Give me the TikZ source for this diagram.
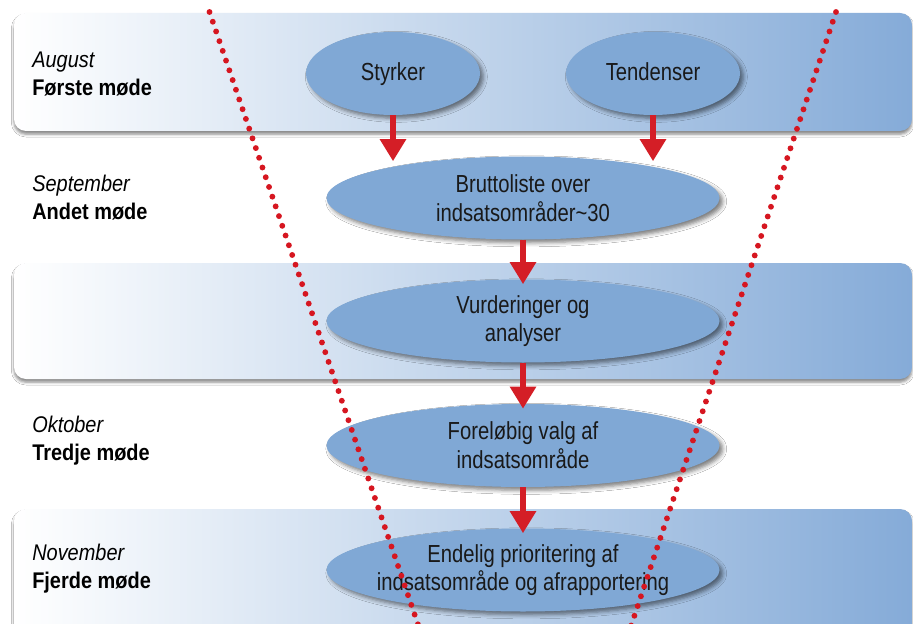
\documentclass[tikz,border=0pt]{standalone}
\usepackage{fontspec}
\setmainfont{Liberation Sans}
\newfontfamily\ellfont[FakeStretch=0.82]{Liberation Sans}
\newfontfamily\labfont[FakeStretch=0.88]{Liberation Sans}
\usetikzlibrary{shapes.geometric,arrows.meta,shadows.blur}
\definecolor{bandblue}{RGB}{133,171,216}
\definecolor{ellblue}{RGB}{128,168,213}
\definecolor{arrred}{RGB}{212,30,38}
\definecolor{dotred}{RGB}{214,22,32}
\begin{document}
\begin{tikzpicture}[x=0.75pt,y=-0.75pt,
  band/.style={left color=white,right color=bandblue,rounded corners=9pt,
    blur shadow={shadow xshift=0pt,shadow yshift=-2.5pt,shadow blur radius=2pt,shadow opacity=45}},
  elltext/.style={align=center,inner sep=0pt,font=\ellfont\fontsize{18.5}{21.5}\selectfont,text=black!90},
  ell/.style={ellipse,fill=ellblue,inner sep=0pt,minimum height=62.25pt,elltext,
    blur shadow={shadow xshift=2.5pt,shadow yshift=-2.5pt,shadow blur radius=3pt,shadow opacity=50}},
  smallell/.style={ell,minimum width=130.5pt,text height=13.5pt,text depth=3.5pt},
  bigell/.style={ell,minimum width=294.75pt},
  lab/.style={anchor=west,align=left,inner sep=0pt,font=\labfont\fontsize{17}{21}\selectfont,text=black},
  arr/.style={draw=arrred,line width=4.9pt,-{Triangle[width=18.75pt,length=16.5pt]},shorten >=-3.75pt},
  dots/.style={draw=dotred,line width=4.4pt,line cap=round,dash pattern=on 0pt off 7.7pt}
]
\useasboundingbox (0,0) rectangle (913,624);
\clip (0,0) rectangle (913,624);
\fill[white] (0,0) rectangle (913,624);

% bands
\path[band] (14,13) rectangle (912,131);
\path[band] (14,263) rectangle (912,379);
\path[band] (14,509) rectangle (912,660);

% ellipses
\node[smallell] (sty) at (393,73.5) {Styrker};
\node[smallell] (ten) at (653,73.5) {Tendenser};
\node[bigell] (brut) at (523,198) {Bruttoliste over\\indsatsområder\textasciitilde30};
\node[bigell] (vur) at (523,321) {Vurderinger og\\analyser};
\node[bigell] (for) at (523,445.5) {Foreløbig valg af\\indsatsområde};
\node[bigell] (end) at (523,570) {};
\node[elltext] (endtext) at (end.center) {Endelig prioritering af\\indsatsområde og afrapportering};

% arrows
\draw[arr] (sty.south) -- (sty.south |- brut.north);
\draw[arr] (ten.south) -- (ten.south |- brut.north);
\draw[arr] (brut.south) -- (vur.north);
\draw[arr] (vur.south) -- (for.north);
\draw[arr] (for.south) -- (end.north);

% labels
\node[lab] (l1) at (32,74) {\textit{August}\\\textbf{Første møde}};
\node[lab] (l2) at (32,198) {\textit{September}\\\textbf{Andet møde}};
\node[lab] (l3) at (32,441) {\textit{Oktober}\\\textbf{Tredje møde}};
\node[lab] (l4) at (32,569) {\textit{November}\\\textbf{Fjerde møde}};

% dotted funnel lines
\coordinate (dlA) at (209.5,12);
\coordinate (dlB) at (418.5,626);
\coordinate (drA) at (836,12);
\coordinate (drB) at (631,626);
\draw[dots] (dlA) -- (dlB);
\draw[dots] (drA) -- (drB);
\end{tikzpicture}
\end{document}
